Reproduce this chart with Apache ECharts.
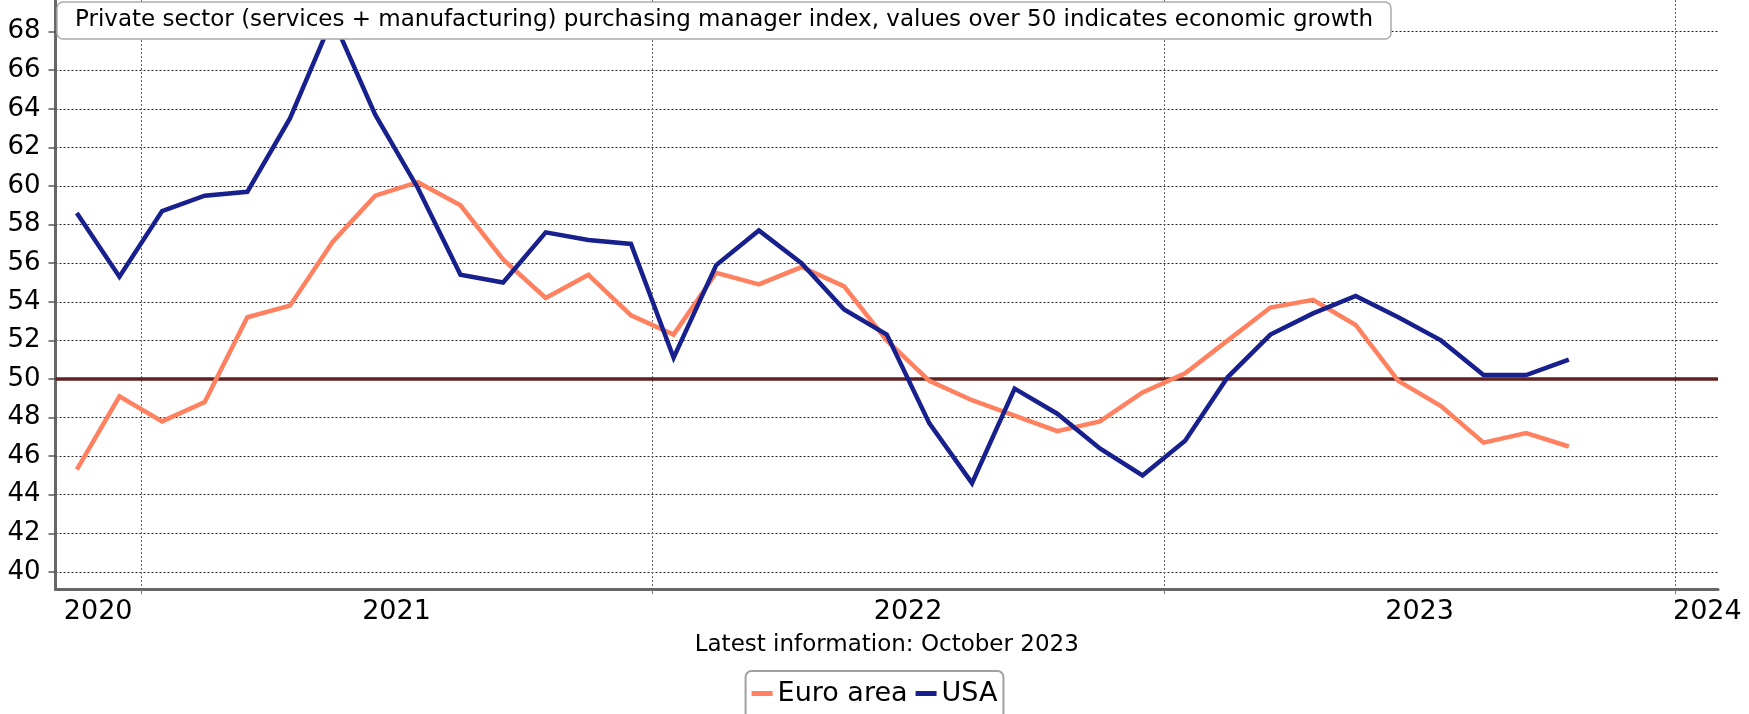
<!DOCTYPE html>
<html>
<head>
<meta charset="utf-8">
<script src="https://cdn.jsdelivr.net/npm/echarts@6/dist/echarts.min.js"></script>
<style>
html,body{margin:0;padding:0;background:#ffffff;}
#chart{width:1749px;height:714px;}
</style>
</head>
<body>
<div id="chart"></div>
<script>
// ---- data ----
const months = [
  '2020-11','2020-12',
  '2021-01','2021-02','2021-03','2021-04','2021-05','2021-06','2021-07','2021-08','2021-09','2021-10','2021-11','2021-12',
  '2022-01','2022-02','2022-03','2022-04','2022-05','2022-06','2022-07','2022-08','2022-09','2022-10','2022-11','2022-12',
  '2023-01','2023-02','2023-03','2023-04','2023-05','2023-06','2023-07','2023-08','2023-09','2023-10'
];
const euroArea = [
  45.3,49.1,
  47.8,48.8,53.2,53.8,57.1,59.5,60.2,59.0,56.2,54.2,55.4,53.3,
  52.3,55.5,54.9,55.8,54.8,52.0,49.9,48.9,48.1,47.3,47.8,49.3,
  50.3,52.0,53.7,54.1,52.8,49.9,48.6,46.7,47.2,46.5
];
const usa = [
  58.6,55.3,
  58.7,59.5,59.7,63.5,68.7,63.7,59.9,55.4,55.0,57.6,57.2,57.0,
  51.1,55.9,57.7,56.0,53.6,52.3,47.7,44.6,49.5,48.2,46.4,45.0,
  46.8,50.1,52.3,53.4,54.3,53.2,52.0,50.2,50.2,51.0
];
const yTicks = [40,42,44,46,48,50,52,54,56,58,60,62,64,66,68];
const yearLabels = ['2020','2021','2022','2023','2024'];
const yearStartsYears = [2021,2022,2023,2024];
const threshold = 50;
const seriesNames = ['Euro area','USA'];
const footnote = 'Latest information: October 2023';
const titleText = 'Private sector (services + manufacturing) purchasing manager index, values over 50 indicates economic growth';

// ---- axis helpers (month units, 0 = Jan 2021) ----
const BASE_YEAR = 2021;
function monthPos(s){
  const [y,m] = s.split('-').map(Number);
  return (y - BASE_YEAR) * 12 + (m - 1) + 0.5; // middle of month
}
const xMin = -2;   // 1 Nov 2020
const xMax = 37;   // 1 Feb 2024
const yearStarts = yearStartsYears.map(y => (y - BASE_YEAR) * 12);
const yearLabelPos = [-1, 6, 18, 30, 36.75];

const FONT = 'DejaVu Sans';
const euroColor = '#FF8160';
const usaColor = '#18208E';

const chart = echarts.init(document.getElementById('chart'), null, {renderer:'canvas'});
chart.setOption({
  animation:false,
  backgroundColor:'#ffffff',
  title:{
    text:titleText,
    left:57, top:2,
    padding:[5,18,5,18],
    backgroundColor:'#ffffff',
    borderColor:'#aaaaaa',
    borderWidth:1.5,
    borderRadius:6,
    z:10,
    textStyle:{fontSize:23,fontWeight:'normal',fontFamily:FONT,color:'#000',lineHeight:27}
  },
  legend:{
    data:seriesNames,
    left:'center', top:671,
    icon:'rect', itemWidth:21, itemHeight:5, itemGap:8,
    padding:[9,6,12,6],
    backgroundColor:'#ffffff',
    borderColor:'#a0a0a0', borderWidth:2, borderRadius:6,
    textStyle:{fontSize:27,fontFamily:FONT,color:'#000'}
  },
  grid:{left:55.5,right:31,top:0,bottom:124.7,containLabel:false,outerBoundsMode:'none'},
  xAxis:{
    type:'value', min:xMin, max:xMax,
    axisLine:{show:true,onZero:false,lineStyle:{color:'#666',width:3}},
    axisTick:{show:true,customValues:yearStarts,length:5,lineStyle:{color:'#777',width:1}},
    splitLine:{show:true,lineStyle:{type:[2,2],color:'#666',width:1}},
    axisLabel:{
      customValues:yearLabelPos,
      margin:9,
      fontSize:27,fontFamily:FONT,color:'#000',
      formatter:function(v){
        let best=-1,bd=1e9;
        yearLabelPos.forEach((p,i)=>{const d=Math.abs(p-v); if(d<bd){bd=d;best=i;}});
        return bd<0.01 ? yearLabels[best] : '';
      }
    },
    name:footnote,
    nameLocation:'middle',
    nameGap:44,
    nameTextStyle:{fontSize:23,fontFamily:FONT,color:'#000'}
  },
  yAxis:{
    type:'value', min:39.1, max:69.64,
    axisLine:{show:true,onZero:false,lineStyle:{color:'#666',width:3}},
    axisTick:{show:true,customValues:yTicks,length:7,lineStyle:{color:'#555',width:1.5}},
    splitLine:{show:true,lineStyle:{type:[2,2],color:'#222',width:1}},
    axisLabel:{customValues:yTicks,margin:15,fontSize:26,fontFamily:FONT,color:'#000'}
  },
  series:[
    {
      name:seriesNames[0], type:'line', z:3,
      data:months.map((m,i)=>[monthPos(m), euroArea[i]]),
      showSymbol:false, symbol:'none',
      lineStyle:{width:4.5,color:euroColor,cap:'butt',join:'miter'},
      itemStyle:{color:euroColor},
      markLine:{
        silent:true, symbol:'none', z:1,
        label:{show:false},
        lineStyle:{color:'#5E2220',width:3.5,type:'solid'},
        data:[{yAxis:threshold}]
      }
    },
    {
      name:seriesNames[1], type:'line', z:4,
      data:months.map((m,i)=>[monthPos(m), usa[i]]),
      showSymbol:false, symbol:'none',
      lineStyle:{width:4.5,color:usaColor,cap:'butt',join:'miter'},
      itemStyle:{color:usaColor}
    }
  ]
});
</script>
</body>
</html>
